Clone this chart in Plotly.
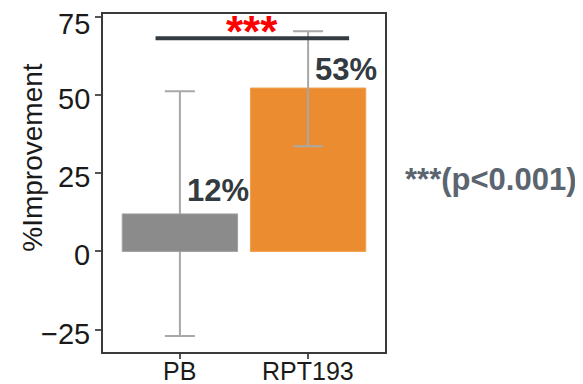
import plotly.graph_objects as go

categories = ["PB", "RPT193"]
values = [12, 52.3]
err_plus = [39.3, 18.2]
err_minus = [39.1, 18.6]
bar_colors = ["#8b8b8b", "#ec8c30"]
value_labels = ["12%", "53%"]
y_ticks = [-25, 0, 25, 50, 75]
y_tick_labels = ["\u221225", "0", "25", "50", "75"]
sig_x = [-0.19, 1.32]
sig_y = 68.2
sig_text = "***"
p_text = "***(p<0.001)"

FONT = "Liberation Sans, Arial, sans-serif"
err_color = "#a8a8a8"

fig = go.Figure()
# PB error bar drawn first (hidden behind PB bar)
fig.add_trace(go.Bar(
    x=[categories[0]], y=[values[0]], width=0.9,
    marker=dict(color="rgba(0,0,0,0)", line=dict(width=0)),
    error_y=dict(type="data", symmetric=False, array=[err_plus[0]], arrayminus=[err_minus[0]],
                 color=err_color, thickness=2, width=15),
    hoverinfo="skip", showlegend=False))
fig.add_trace(go.Bar(
    x=[categories[0]], y=[values[0]], width=0.9,
    marker=dict(color=bar_colors[0], line=dict(color="#a0a0a0", width=1)),
    showlegend=False))
fig.add_trace(go.Bar(
    x=[categories[1]], y=[values[1]], width=0.9,
    marker=dict(color=bar_colors[1], line=dict(color="#f0a050", width=1)),
    error_y=dict(type="data", symmetric=False, array=[err_plus[1]], arrayminus=[err_minus[1]],
                 color=err_color, thickness=2, width=15),
    showlegend=False))

fig.add_shape(type="line", xref="x", yref="y", x0=sig_x[0], x1=sig_x[1], y0=sig_y, y1=sig_y,
              line=dict(color="#343b41", width=4))

fig.add_annotation(x=0.565, y=70.3, xref="x", yref="y", text=sig_text, showarrow=False,
                   font=dict(family=FONT, size=44, color="#ff0000", weight="bold"),
                   xanchor="center", yanchor="middle")
fig.add_annotation(x=0.04, y=19.6, xref="x", yref="y", text=value_labels[0], showarrow=False,
                   font=dict(family=FONT, size=31, color="#333a40", weight="bold"),
                   xanchor="left", yanchor="middle")
fig.add_annotation(x=1.04, y=58.2, xref="x", yref="y", text=value_labels[1], showarrow=False,
                   font=dict(family=FONT, size=31, color="#333a40", weight="bold"),
                   xanchor="left", yanchor="middle")
fig.add_annotation(x=1.064, y=0.51, xref="paper", yref="paper", text=p_text, showarrow=False,
                   font=dict(family=FONT, size=31, color="#5a6570", weight="bold"),
                   xanchor="left", yanchor="middle")
fig.add_annotation(x=-0.248, y=0.575, xref="paper", yref="paper", text="%Improvement", showarrow=False,
                   textangle=-90, font=dict(family=FONT, size=28, color="#1a1a1a"),
                   xanchor="center", yanchor="middle")
for cat in categories:
    fig.add_annotation(x=cat, y=0, xref="x", yref="paper", text=cat, showarrow=False,
                       font=dict(family=FONT, size=25, color="#1a1a1a"),
                       xanchor="center", yanchor="top", yshift=-3)
for val, lab in zip(y_ticks, y_tick_labels):
    fig.add_annotation(x=0, y=val, xref="paper", yref="y", text=lab, showarrow=False,
                       font=dict(family=FONT, size=29, color="#1a1a1a"),
                       xanchor="right", yanchor="middle", xshift=-11,
                       yshift=-7 if val == max(y_ticks) else -4)

fig.update_layout(
    width=575, height=376,
    margin=dict(l=95, r=198, t=6, b=32, autoexpand=False),
    paper_bgcolor="white", plot_bgcolor="white",
    barmode="overlay",
    font=dict(family=FONT, color="#1a1a1a"),
    xaxis=dict(type="category", range=[-0.6, 1.6], showgrid=False, zeroline=False,
               automargin=False, showticklabels=False,
               showline=True, linecolor="#3a3a3a", linewidth=2, mirror=True,
               ticks="outside", ticklen=5, tickwidth=1.5, tickcolor="#555"),
    yaxis=dict(range=[-32.2, 76.0], tickvals=y_ticks, showgrid=False, zeroline=False,
               automargin=False, showticklabels=False,
               showline=True, linecolor="#3a3a3a", linewidth=2, mirror=True,
               ticks="outside", ticklen=6, tickwidth=1.5, tickcolor="#555"),
)

fig.write_html("out.html")
